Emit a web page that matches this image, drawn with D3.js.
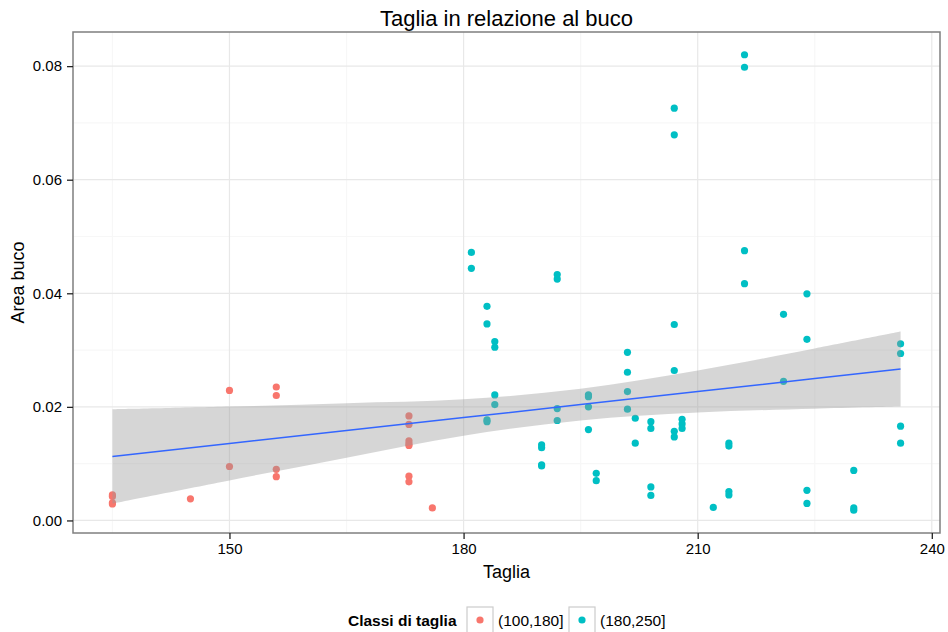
<!DOCTYPE html>
<html>
<head>
<meta charset="utf-8">
<script src="https://cdn.jsdelivr.net/npm/d3@7"></script>
<style>
  html, body { margin: 0; padding: 0; background: #fff; }
  svg { display: block; font-family: "Liberation Sans", Arial, Helvetica, sans-serif; }
</style>
</head>
<body>
<svg id="chart" width="948" height="632"></svg>
<script>
// Size class 1: (100,180]
const tagliaSmall = [135, 135, 135, 135, 145, 150, 150, 156, 156, 156, 156,
  173, 173, 173, 173, 173, 173, 173, 176];
const areaSmall = [0.0045, 0.0042, 0.0031, 0.0029, 0.0038, 0.0229, 0.0095,
  0.0235, 0.0220, 0.0090, 0.0077,
  0.0184, 0.0169, 0.0140, 0.0135, 0.0132, 0.0078, 0.0068, 0.0022];

// Size class 2: (180,250]
const tagliaLarge = [
  181, 181,
  183, 183, 183, 183,
  184, 184, 184, 184,
  190, 190, 190, 190,
  192, 192, 192, 192,
  196, 196, 196, 196,
  197, 197,
  201, 201, 201, 201,
  202, 202,
  204, 204, 204, 204,
  207, 207, 207, 207, 207, 207,
  208, 208, 208,
  212,
  214, 214, 214, 214,
  216, 216, 216, 216,
  221, 221,
  224, 224, 224, 224,
  230, 230, 230,
  236, 236, 236, 236];
const areaLarge = [
  0.0472, 0.0444,
  0.0377, 0.0346, 0.0177, 0.0174,
  0.0315, 0.0305, 0.0221, 0.0204,
  0.0133, 0.0128, 0.0098, 0.0096,
  0.0433, 0.0425, 0.0197, 0.0176,
  0.0221, 0.0218, 0.0200, 0.0160,
  0.0083, 0.0070,
  0.0296, 0.0261, 0.0227, 0.0196,
  0.0180, 0.0136,
  0.0174, 0.0162, 0.0059, 0.0044,
  0.0726, 0.0679, 0.0345, 0.0264, 0.0157, 0.0147,
  0.0178, 0.0170, 0.0162,
  0.0023,
  0.0136, 0.0131, 0.0051, 0.0045,
  0.0820, 0.0798, 0.0475, 0.0417,
  0.0363, 0.0245,
  0.0399, 0.0319, 0.0053, 0.0030,
  0.0088, 0.0022, 0.0018,
  0.0311, 0.0294, 0.0166, 0.0136];

// Linear trend (lm) with its 95% confidence band
const fitTaglia = [135, 150, 165, 180, 195, 210, 225, 236];
const fitArea   = [0.01127, 0.01355, 0.01584, 0.01812, 0.02040, 0.02269, 0.02498, 0.02665];
const fitLower  = [0.00297, 0.00705, 0.01104, 0.01492, 0.01760, 0.01899, 0.01968, 0.02005];
const fitUpper  = [0.01957, 0.02005, 0.02064, 0.02132, 0.02320, 0.02639, 0.03028, 0.03325];

const classLabels = ["(100,180]", "(180,250]"];
const classColors = ["#F8766D", "#00BFC4"];
const xTicks = [150, 180, 210, 240];
const xMinor = [135, 165, 195, 225];
const yTicks = [0, 0.02, 0.04, 0.06, 0.08];
const yMinor = [0.01, 0.03, 0.05, 0.07];

const points = [
  ...tagliaSmall.map((t, i) => ({x: t, y: areaSmall[i], c: 0})),
  ...tagliaLarge.map((t, i) => ({x: t, y: areaLarge[i], c: 1}))
];
const fit = fitTaglia.map((t, i) => ({x: t, y: fitArea[i], lo: fitLower[i], hi: fitUpper[i]}));

const svg = d3.select("#chart");
const panel = {left: 73, right: 940, top: 32, bottom: 533};

// Continuous scales padded by 5% of the data range on each side
function expand(ext) {
  const r = ext[1] - ext[0];
  return [ext[0] - 0.05 * r, ext[1] + 0.05 * r];
}
const x = d3.scaleLinear().domain(expand(d3.extent(points, d => d.x))).range([panel.left, panel.right]);
const y = d3.scaleLinear().domain(expand(d3.extent(points, d => d.y))).range([panel.bottom, panel.top]);

// Panel background and grid
svg.append("rect").attr("x", panel.left).attr("y", panel.top)
  .attr("width", panel.right - panel.left).attr("height", panel.bottom - panel.top)
  .attr("fill", "#fff");

const grid = svg.append("g");
grid.selectAll(".xminor").data(xMinor).join("line")
  .attr("x1", d => x(d)).attr("x2", d => x(d)).attr("y1", panel.top).attr("y2", panel.bottom)
  .attr("stroke", "#f7f7f7").attr("stroke-width", 1.2);
grid.selectAll(".yminor").data(yMinor).join("line")
  .attr("y1", d => y(d)).attr("y2", d => y(d)).attr("x1", panel.left).attr("x2", panel.right)
  .attr("stroke", "#f7f7f7").attr("stroke-width", 1.2);
grid.selectAll(".xmajor").data(xTicks).join("line")
  .attr("x1", d => x(d)).attr("x2", d => x(d)).attr("y1", panel.top).attr("y2", panel.bottom)
  .attr("stroke", "#e8e8e8").attr("stroke-width", 1.2);
grid.selectAll(".ymajor").data(yTicks).join("line")
  .attr("y1", d => y(d)).attr("y2", d => y(d)).attr("x1", panel.left).attr("x2", panel.right)
  .attr("stroke", "#e8e8e8").attr("stroke-width", 1.2);

// Points
svg.append("g").selectAll("circle").data(points).join("circle")
  .attr("cx", d => x(d.x)).attr("cy", d => y(d.y)).attr("r", 3.6)
  .attr("fill", d => classColors[d.c]);

// Confidence ribbon and fitted line
svg.append("path").datum(fit)
  .attr("d", d3.area().curve(d3.curveCatmullRom.alpha(0.5))
    .x(d => x(d.x)).y0(d => y(d.lo)).y1(d => y(d.hi)))
  .attr("fill", "#999999").attr("fill-opacity", 0.4);
svg.append("path").datum(fit)
  .attr("d", d3.line().x(d => x(d.x)).y(d => y(d.y)))
  .attr("fill", "none").attr("stroke", "#3366FF").attr("stroke-width", 1.5);

// Panel border
svg.append("rect").attr("x", panel.left).attr("y", panel.top)
  .attr("width", panel.right - panel.left).attr("height", panel.bottom - panel.top)
  .attr("fill", "none").attr("stroke", "#7f7f7f").attr("stroke-width", 1.5);

// Axes
const xAxis = svg.append("g").attr("transform", `translate(0,${panel.bottom})`)
  .call(d3.axisBottom(x).tickValues(xTicks).tickFormat(d3.format("d")).tickSize(6).tickPadding(4));
const yAxis = svg.append("g").attr("transform", `translate(${panel.left},0)`)
  .call(d3.axisLeft(y).tickValues(yTicks).tickFormat(d3.format(".2f")).tickSize(6).tickPadding(5));
[xAxis, yAxis].forEach(g => {
  g.select(".domain").remove();
  g.selectAll(".tick line").attr("stroke", "#222").attr("stroke-width", 1.3);
  g.selectAll(".tick text").attr("fill", "#000").attr("font-size", 15)
    .attr("font-family", "Liberation Sans, Arial, sans-serif");
});

// Titles
svg.append("text").attr("x", (panel.left + panel.right) / 2).attr("y", 26)
  .attr("text-anchor", "middle").attr("font-size", 22).text("Taglia in relazione al buco");
svg.append("text").attr("x", (panel.left + panel.right) / 2).attr("y", 578)
  .attr("text-anchor", "middle").attr("font-size", 18).text("Taglia");
svg.append("text").attr("transform", `translate(24,${(panel.top + panel.bottom) / 2}) rotate(-90)`)
  .attr("text-anchor", "middle").attr("font-size", 18).text("Area buco");

// Legend
const lg = svg.append("g");
const legY = 620;
lg.append("text").attr("x", 348).attr("y", legY + 5.5).attr("font-size", 15.5)
  .attr("font-weight", "bold").text("Classi di taglia");
const keyX = [467, 569];
classLabels.forEach((lab, i) => {
  lg.append("rect").attr("x", keyX[i]).attr("y", legY - 13).attr("width", 26).attr("height", 26)
    .attr("fill", "#fff").attr("stroke", "#cccccc").attr("stroke-width", 1.2);
  lg.append("circle").attr("cx", keyX[i] + 13).attr("cy", legY).attr("r", 3.6)
    .attr("fill", classColors[i]);
  lg.append("text").attr("x", keyX[i] + 31).attr("y", legY + 5.5).attr("font-size", 15.5)
    .text(lab);
});
</script>
</body>
</html>
